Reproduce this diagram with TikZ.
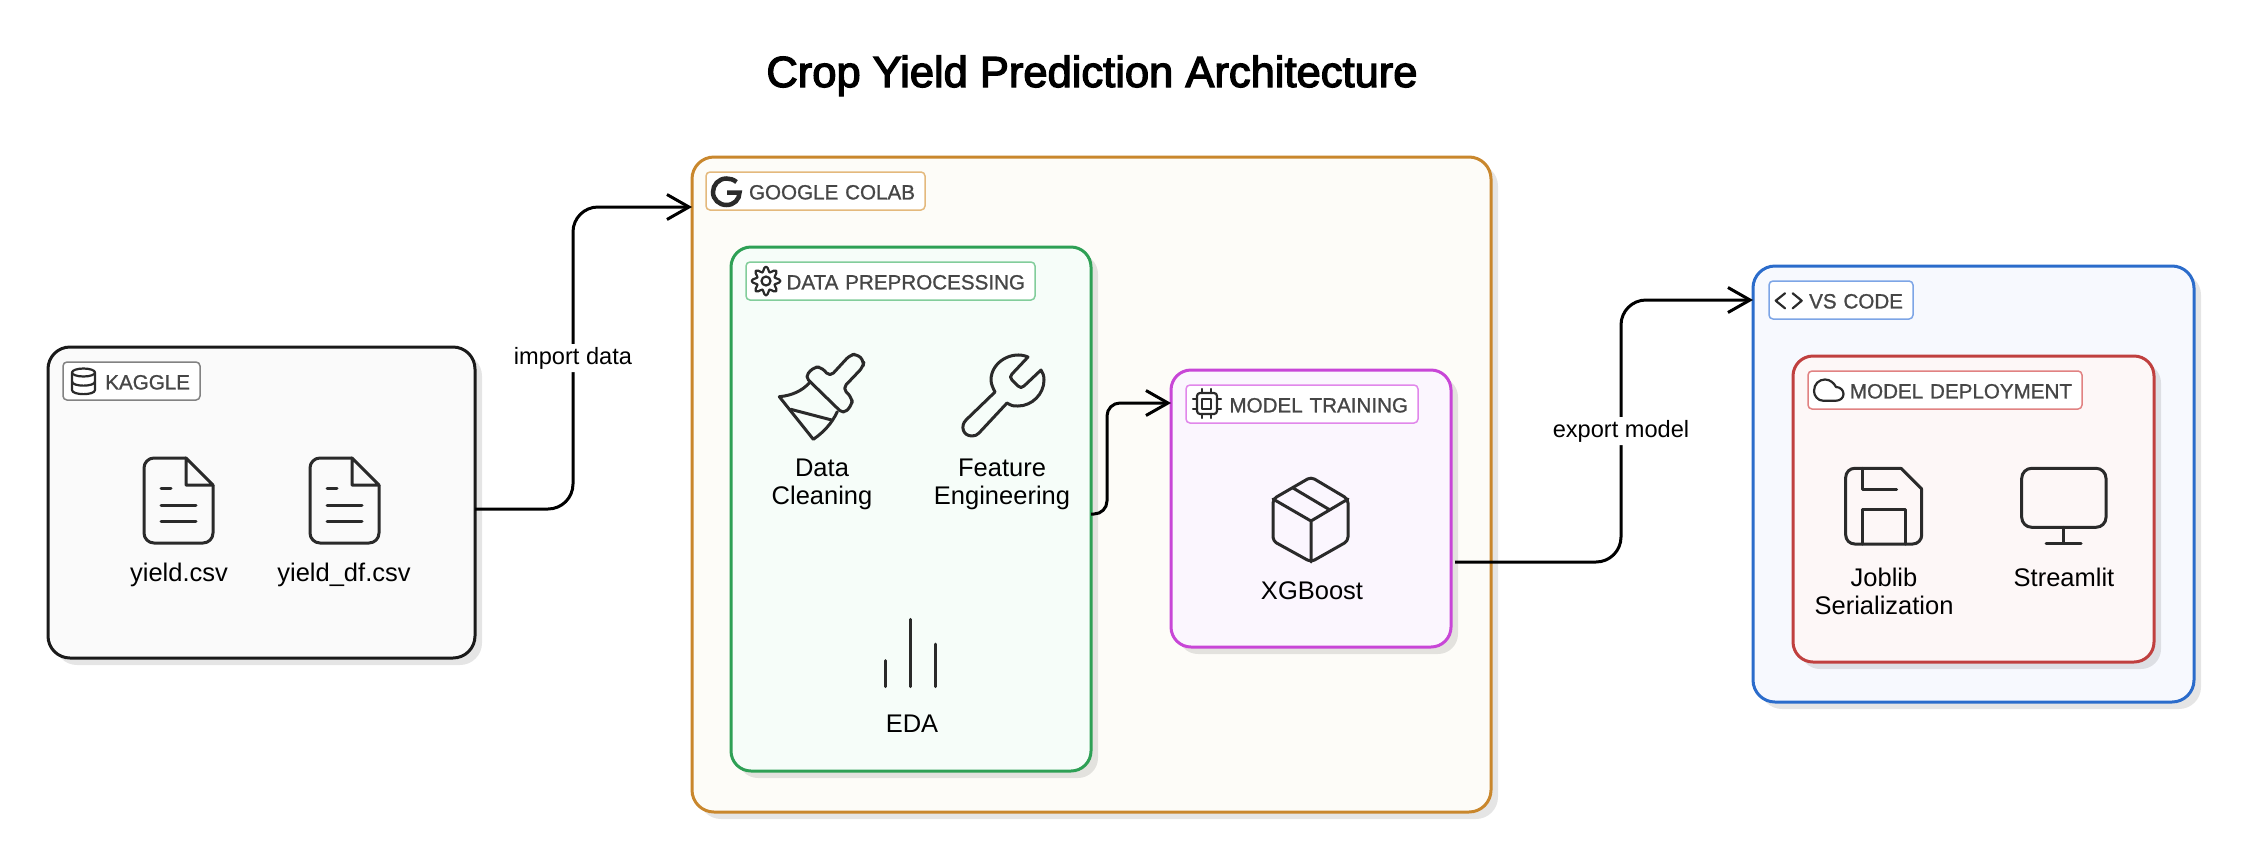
\documentclass[tikz,border=0pt]{standalone}
\usepackage{fontspec}
\setmainfont{Liberation Sans}
\newfontfamily\titlefont[FakeBold=3]{Liberation Sans}
\newfontfamily\tagfont[FakeBold=1]{Liberation Sans}
\usetikzlibrary{arrows.meta,shadows}
\definecolor{node_black}{RGB}{250,250,250}
\definecolor{edge_black}{RGB}{26,26,26}
\definecolor{tag_black}{RGB}{130,130,130}
\definecolor{node_orange}{RGB}{253,252,248}
\definecolor{edge_orange}{RGB}{201,135,45}
\definecolor{tag_orange}{RGB}{228,185,125}
\definecolor{node_green}{RGB}{246,253,249}
\definecolor{edge_green}{RGB}{46,160,85}
\definecolor{tag_green}{RGB}{130,205,155}
\definecolor{node_purple}{RGB}{251,246,254}
\definecolor{edge_purple}{RGB}{200,70,215}
\definecolor{tag_purple}{RGB}{225,135,235}
\definecolor{node_blue}{RGB}{247,249,254}
\definecolor{edge_blue}{RGB}{43,108,203}
\definecolor{tag_blue}{RGB}{125,165,230}
\definecolor{node_red}{RGB}{253,247,247}
\definecolor{edge_red}{RGB}{192,64,63}
\definecolor{tag_red}{RGB}{225,130,130}
\definecolor{tag_text}{RGB}{70,70,70}
\definecolor{icon_black}{RGB}{42,42,42}
\newcommand\fileicon[2]{
  \begin{scope}[shift={(#1,#2)}]
    \draw[icon,rounded corners=10] (42,0) -- (0,0) -- (0,85) -- (69,85) -- (69,27);
    \draw[icon] (42,0) -- (69,27) -- (42,27) -- cycle;
    \draw[icon] (17,30) -- (27,30) (17,47) -- (52,47) (17,63) -- (52,63);
  \end{scope}
}
\begin{document}
\begin{tikzpicture}[x=1pt,y=1pt,yscale=-1,semithick]
    \tikzstyle{group}=[draw, rectangle, rounded corners=22, line width=3, outer sep=0, inner sep=0,
      drop shadow={shadow xshift=7pt,shadow yshift=-7pt,fill=black,opacity=0.1}]
    \tikzstyle{subgroup}=[style=group, rounded corners=20]
    \tikzstyle{tagbox}=[draw, fill=white, rectangle, rounded corners=4, line width=1.5, outer sep=0,
      minimum height=38, inner xsep=10, inner ysep=0, align=right, text=tag_text, text height=17,
      font=\tagfont\fontsize{20.6}{24}\selectfont]
    \tikzstyle{item}=[text=black, align=center, inner sep=0, font=\fontsize{25.5}{28}\selectfont]
    \tikzstyle{edgelabel}=[fill=white, text=black, inner sep=3, font=\fontsize{23.6}{26}\selectfont]
    \tikzstyle{icon}=[draw=icon_black, line width=3, line join=round, line cap=round]
    \tikzstyle{smallicon}=[style=icon, line width=2.2]
    \tikzstyle{flow}=[draw=black, line width=3, rounded corners=25,
      -{Straight Barb[length=22,width=25,line width=3]}]

    \useasboundingbox (0,0) rectangle (2245,863);
    \fill[white] (0,0) rectangle (2245,863);

    \node[text=black, font=\titlefont\fontsize{43.5}{50}\selectfont, anchor=base] (title) at (1092,87) {Crop Yield Prediction Architecture};

    \node[group,fill=node_black,draw=edge_black,minimum width=427,minimum height=311]  (kaggle)  at (261.5,502.5) {};
    \node[group,fill=node_orange,draw=edge_orange,minimum width=799,minimum height=655] (colab)  at (1091.5,484.5) {};
    \node[subgroup,fill=node_green,draw=edge_green,minimum width=360,minimum height=524] (prep)  at (911,509) {};
    \node[subgroup,fill=node_purple,draw=edge_purple,minimum width=280,minimum height=277] (train) at (1311,508.5) {};
    \node[group,fill=node_blue,draw=edge_blue,minimum width=441,minimum height=436]   (vscode) at (1973.5,484) {};
    \node[subgroup,fill=node_red,draw=edge_red,minimum width=361,minimum height=306]  (deploy) at (1973.5,509) {};

    \node[tagbox,draw=tag_black,text width=117]  (kaggletag) at (131.5,381) {KAGGLE};
    \node[tagbox,draw=tag_orange,text width=199] (colabtag)  at (815.5,191) {GOOGLE COLAB};
    \node[tagbox,draw=tag_green,text width=269]  (preptag)   at (890.5,281) {DATA PREPROCESSING};
    \node[tagbox,draw=tag_purple,text width=212] (traintag)  at (1302,404)  {MODEL TRAINING};
    \node[tagbox,draw=tag_blue,text width=124]   (vscodetag) at (1841,300)  {VS CODE};
    \node[tagbox,draw=tag_red,text width=254]    (deploytag) at (1945,390)  {MODEL DEPLOYMENT};

    \node[item] (yield)   at (179,575)  {yield.csv};
    \node[item] (yielddf) at (344,575)  {yield\_df.csv};
    \node[item] (clean)   at (822,484.5)  {Data\\Cleaning};
    \node[item] (feature) at (1002,484.5) {Feature\\Engineering};
    \node[item] (eda)     at (912,724)  {EDA};
    \node[item] (xgb)     at (1312,591) {XGBoost};
    \node[item] (joblib)  at (1884,591.5) {Joblib\\Serialization};
    \node[item] (stream)  at (2064,577.5) {Streamlit};

    \fileicon{144}{458}
    \fileicon{310}{458}

    \draw[smallicon] (83.5,372.5) ellipse [x radius=11.5, y radius=4];
    \draw[smallicon] (72,372.5) -- (72,390) .. controls (72,395.5) and (95,395.5) .. (95,390) -- (95,372.5);
    \draw[smallicon] (72,381.5) .. controls (72,387) and (95,387) .. (95,381.5);

    \draw[draw=icon_black,line width=4.5] (736.5,182) .. controls (733.5,179.5) and (730,178.5) .. (726.5,178.5)
      .. controls (718.5,178.5) and (713,185) .. (713,192) .. controls (713,199.5) and (719,205) .. (726.5,205)
      .. controls (734,205) and (739.5,199.5) .. (739.5,192.5) -- (727,192.5);

    \draw[smallicon] (766,281) circle [radius=4.5];
    \draw[smallicon] plot[smooth cycle,domain=0:352.5,samples=48] ({766+(11.8+2.6*cos(8*\x))*cos(\x)},{281+(11.8+2.6*cos(8*\x))*sin(\x)});

    \draw[icon,rounded corners=5] (830,376.7) -- (850,355) -- (857,354) -- (864,361) -- (863,367) -- (842.7,388.3)
      -- (852,398) -- (852,405) -- (843.3,414) -- (805,376.7) -- (814,367) -- (821,367) -- cycle;
    \draw[icon] (810,382.3) .. controls (802,391) and (792,395.5) .. (779.3,396.7) -- (813.3,439.3)
      .. controls (824,432) and (832,423) .. (837.3,411.7);
    \draw[icon] (790.7,409.3) -- (831.7,420);

    \draw[icon] (1028,357) .. controls (1012,350) and (991,362) .. (991,380) .. controls (991,384) and (993,388) .. (995,392)
      -- (966,420) .. controls (960,426) and (963,436) .. (972,436) .. controls (975,436) and (977,435) .. (979,433)
      -- (1007,403) .. controls (1012,406) and (1013,406) .. (1018,406) .. controls (1032,406) and (1044,394) .. (1044,380)
      .. controls (1044,376) and (1043,373) .. (1041,370) -- (1024,386) .. controls (1022,388) and (1020,388) .. (1018,386)
      -- (1012,380) .. controls (1010,378) and (1010,376) .. (1012,374) -- cycle;

    \draw[icon] (885.7,660.7) -- (885.7,686.7) (910.7,619.3) -- (910.7,686.7) (935.7,644) -- (935.7,686.7);

    \draw[smallicon,rounded corners=3] (1197,393) rectangle (1217,414);
    \draw[smallicon] (1202,399) rectangle (1211,409);
    \foreach \p in {1202,1211} {
      \draw[smallicon] (\p,389) -- (\p,393) (\p,414) -- (\p,418);
    }
    \foreach \p in {399,409} {
      \draw[smallicon] (1193,\p) -- (1197,\p) (1217,\p) -- (1221,\p);
    }

    \draw[icon,rounded corners=4] (1311,477) -- (1348,499) -- (1348,541) -- (1311,562) -- (1273,541) -- (1273,499) -- cycle;
    \draw[icon] (1273,499) -- (1311,521) -- (1348,499) (1311,521) -- (1311,562) (1293,488) -- (1330,510);

    \draw[smallicon] (1785,293.3) -- (1775.7,300.7) -- (1785,308.3) (1792.7,293.3) -- (1801.7,300.7) -- (1792.7,308.3);

    \draw[smallicon] (1823,400.7) .. controls (1818,400.7) and (1814,396) .. (1814,391) .. controls (1814,384) and (1819,379.5) .. (1825,379.5)
      .. controls (1830,379.5) and (1834,383) .. (1836,387) .. controls (1840,387) and (1843.5,390) .. (1843.5,394)
      .. controls (1843.5,398) and (1840,400.7) .. (1836,400.7) -- cycle;

    \draw[icon,rounded corners=9] (1901,468.3) -- (1845.7,468.3) -- (1845.7,544) -- (1921.7,544) -- (1921.7,489);
    \draw[icon] (1901,468.3) -- (1921.7,489);
    \draw[icon] (1862.3,468.3) -- (1862.3,489) -- (1896.7,489) (1862.3,544) -- (1862.3,509.3) -- (1905,509.3) -- (1905,544);

    \draw[icon,rounded corners=10] (2021.7,468.3) rectangle (2106,527.3);
    \draw[icon] (2063.3,527.3) -- (2063.3,543.3) (2046,543.3) -- (2081,543.3);

    \draw[flow] ([yshift=6.5]kaggle.east) -- ++(98,0) |- ([yshift=-277.5]colab.west)
      node[edgelabel,pos=0.25] (importlabel) {import data};
    \draw[flow,rounded corners=13] ([yshift=5]prep.east) -- ++(16,0) |- ([yshift=-105.5]train.west);
    \draw[flow] ([xshift=4,yshift=53.5]train.east) -- ++(166,0) |- ([yshift=-184]vscode.west)
      node[edgelabel,pos=0.25] (exportlabel) {export model};
\end{tikzpicture}
\end{document}
